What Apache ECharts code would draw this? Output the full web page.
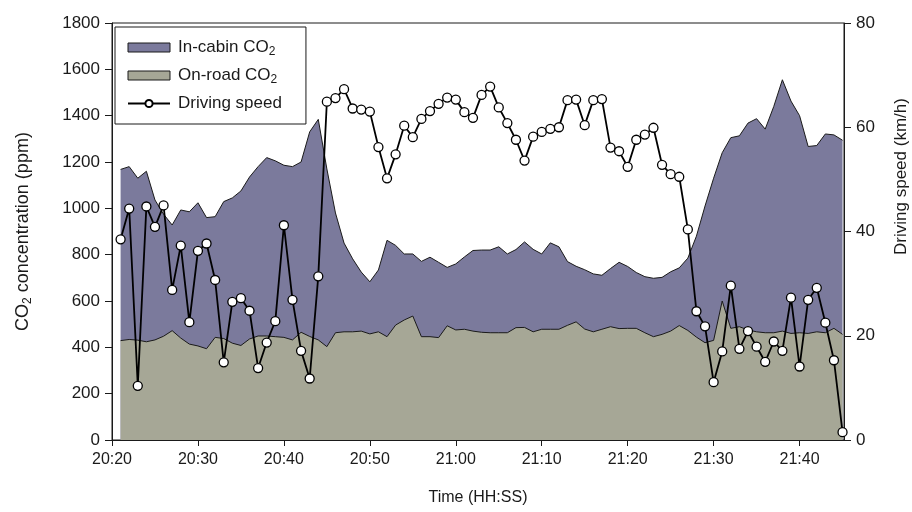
<!DOCTYPE html>
<html>
<head>
<meta charset="utf-8">
<script src="https://cdn.jsdelivr.net/npm/echarts@6/dist/echarts.min.js"></script>
<style>
  html, body { margin: 0; padding: 0; background: #ffffff; }
  #chart { width: 912px; height: 512px; }
</style>
</head>
<body>
<div id="chart"></div>
<script>
// One-minute samples along the drive
const times = [
  "20:21","20:22","20:23","20:24","20:25","20:26","20:27","20:28","20:29","20:30",
  "20:31","20:32","20:33","20:34","20:35","20:36","20:37","20:38","20:39","20:40",
  "20:41","20:42","20:43","20:44","20:45","20:46","20:47","20:48","20:49","20:50",
  "20:51","20:52","20:53","20:54","20:55","20:56","20:57","20:58","20:59","21:00",
  "21:01","21:02","21:03","21:04","21:05","21:06","21:07","21:08","21:09","21:10",
  "21:11","21:12","21:13","21:14","21:15","21:16","21:17","21:18","21:19","21:20",
  "21:21","21:22","21:23","21:24","21:25","21:26","21:27","21:28","21:29","21:30",
  "21:31","21:32","21:33","21:34","21:35","21:36","21:37","21:38","21:39","21:40",
  "21:41","21:42","21:43","21:44","21:45"
];

// In-cabin CO2 (ppm)
const inCabinCO2 = [
  1168,1180,1130,1160,1036,975,928,993,985,1024,
  960,964,1029,1045,1075,1135,1180,1219,1205,1186,
  1180,1200,1330,1384,1170,980,850,782,725,683,
  734,862,840,803,803,771,789,767,745,760,
  790,818,820,820,834,803,822,855,823,803,
  851,834,770,750,735,717,711,740,767,749,
  723,705,698,702,726,743,785,880,1010,1130,
  1240,1305,1313,1368,1387,1342,1440,1555,1463,1400,
  1267,1271,1321,1317,1294
];

// On-road CO2 (ppm)
const onRoadCO2 = [
  429,434,431,424,432,448,472,440,414,406,
  394,443,438,418,408,436,449,449,446,443,
  432,465,447,432,403,463,467,467,470,458,
  467,446,496,518,535,446,446,442,493,475,
  478,470,465,463,463,463,485,486,467,478,
  478,478,495,510,479,467,478,489,481,482,
  482,463,446,456,470,494,473,444,420,430,
  600,482,489,475,467,463,463,470,460,463,
  460,467,463,482,456
];

// Driving speed (km/h)
const drivingSpeed = [
  38.5,44.4,10.4,44.8,40.9,45.0,28.8,37.3,22.6,36.3,
  37.7,30.7,14.9,26.5,27.2,24.8,13.8,18.7,22.8,41.2,
  26.9,17.1,11.8,31.4,64.9,65.6,67.3,63.6,63.4,63.0,
  56.2,50.2,54.8,60.3,58.1,61.6,63.1,64.5,65.7,65.3,
  62.9,61.8,66.2,67.8,63.8,60.8,57.6,53.6,58.2,59.1,
  59.7,60.0,65.2,65.3,60.4,65.2,65.4,56.1,55.4,52.4,
  57.6,58.6,59.9,52.8,51.0,50.5,40.4,24.7,21.8,11.1,
  17.0,29.6,17.5,20.9,17.9,15.0,18.9,17.1,27.3,14.1,
  26.9,29.2,22.5,15.3,1.5
];

// Time axis: ticks every 10 minutes starting at 20:20
const timeTicks = ["20:20","20:30","20:40","20:50","21:00","21:10","21:20","21:30","21:40"];
const axisStart = "20:20";
const axisEndMinutes = 85.17;

const seriesNames = ["In-cabin CO2", "On-road CO2", "Driving speed"];

function clockToMinutes(t) {
  const parts = t.split(":").map(Number);
  return parts[0] * 60 + parts[1];
}
const originMin = clockToMinutes(axisStart);
const xOf = t => clockToMinutes(t) - originMin;
const tickLabelAt = {};
timeTicks.forEach(t => { tickLabelAt[xOf(t)] = t; });

const pairs = vals => times.map((t, i) => [xOf(t), vals[i]]);

const FONT = "'Liberation Sans', Arial, sans-serif";
const INK = "#1a1a1a";
const PURPLE = "#7b7a9c";
const GREY = "#a6a796";

const chart = echarts.init(document.getElementById("chart"), null, { renderer: "canvas" });

const legendRich = {
  t: { fontSize: 17, color: INK, fontFamily: FONT },
  s: { fontSize: 12, color: INK, fontFamily: FONT, padding: [9, 0, 0, 0] }
};
const titleRich = {
  t: { fontSize: 18, color: INK, fontFamily: FONT },
  s: { fontSize: 12, color: INK, fontFamily: FONT, padding: [9, 0, 0, 0] }
};

chart.setOption({
  animation: false,
  backgroundColor: "#ffffff",
  textStyle: { fontFamily: FONT, color: INK },
  grid: {
    left: 112, right: 68, top: 23, bottom: 72,
    outerBoundsMode: "none",
    show: true, borderColor: INK, borderWidth: 1, backgroundColor: "transparent"
  },
  legend: {
    orient: "vertical",
    left: 115, top: 27,
    padding: [12, 24, 12, 12],
    itemGap: 9,
    itemWidth: 42,
    itemHeight: 9,
    borderColor: INK,
    borderWidth: 1,
    backgroundColor: "#ffffff",
    data: [
      { name: seriesNames[0], icon: "rect", itemStyle: { color: PURPLE, borderColor: INK, borderWidth: 1 } },
      { name: seriesNames[1], icon: "rect", itemStyle: { color: GREY, borderColor: INK, borderWidth: 1 } },
      { name: seriesNames[2] }
    ],
    formatter: name => {
      if (name.endsWith("CO2")) return "{t|" + name.slice(0, -1) + "}{s|2}";
      return "{t|" + name + "}";
    },
    textStyle: { rich: legendRich, fontSize: 17, color: INK, padding: [0, 0, 0, 3] }
  },
  xAxis: {
    type: "value",
    min: 0,
    max: axisEndMinutes,
    interval: 10,
    name: "Time (HH:SS)",
    nameLocation: "middle",
    nameGap: 50,
    nameTextStyle: { fontSize: 16, color: INK, fontFamily: FONT },
    axisLine: { onZero: false, lineStyle: { color: INK, width: 1 } },
    axisTick: { show: true, length: 6, lineStyle: { color: INK } },
    axisLabel: {
      fontSize: 16, color: INK, margin: 12, showMaxLabel: false,
      formatter: v => tickLabelAt[v] || ""
    },
    splitLine: { show: false }
  },
  yAxis: [
    {
      type: "value",
      position: "left",
      min: 0, max: 1800, interval: 200,
      name: "{t|CO}{s|2}{t| concentration (ppm)}",
      nameLocation: "middle",
      nameRotate: 90,
      nameGap: 78,
      nameTextStyle: { rich: titleRich },
      axisLine: { show: true, lineStyle: { color: INK, width: 1 } },
      axisTick: { show: true, length: 7, lineStyle: { color: INK } },
      axisLabel: { fontSize: 17, color: INK, margin: 12, formatter: v => String(v) },
      splitLine: { show: false }
    },
    {
      type: "value",
      position: "right",
      min: 0, max: 80, interval: 20,
      name: "Driving speed (km/h)",
      nameLocation: "middle",
      nameRotate: 90,
      nameGap: 49,
      nameTextStyle: { fontSize: 17, color: INK, fontFamily: FONT, padding: [0, 0, 0, 110] },
      axisLine: { show: true, lineStyle: { color: INK, width: 1 } },
      axisTick: { show: true, length: 7, lineStyle: { color: INK } },
      axisLabel: { fontSize: 17, color: INK, margin: 12, formatter: v => String(v) },
      splitLine: { show: false }
    }
  ],
  series: [
    {
      name: seriesNames[0],
      type: "line",
      data: pairs(inCabinCO2),
      yAxisIndex: 0,
      symbol: "none",
      lineStyle: { color: INK, width: 1 },
      itemStyle: { color: PURPLE },
      areaStyle: { color: PURPLE, opacity: 1 },
      z: 2
    },
    {
      name: seriesNames[1],
      type: "line",
      data: pairs(onRoadCO2),
      yAxisIndex: 0,
      symbol: "none",
      lineStyle: { color: INK, width: 1 },
      itemStyle: { color: GREY },
      areaStyle: { color: GREY, opacity: 1 },
      z: 3
    },
    {
      name: seriesNames[2],
      type: "line",
      data: pairs(drivingSpeed),
      yAxisIndex: 1,
      symbol: "circle",
      symbolSize: 9,
      showAllSymbol: true,
      lineStyle: { color: "#000000", width: 1.8 },
      itemStyle: { color: "#ffffff", borderColor: "#000000", borderWidth: 1.3 },
      z: 4
    }
  ]
});
</script>
</body>
</html>
